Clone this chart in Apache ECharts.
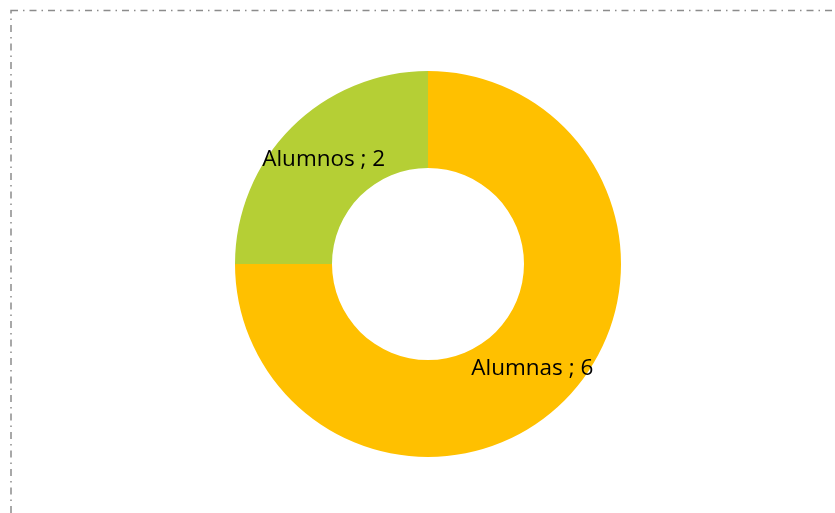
<!DOCTYPE html>
<html>
<head>
<meta charset="utf-8">
<script src="https://cdn.jsdelivr.net/npm/echarts@6/dist/echarts.min.js"></script>
<style>
  html, body { margin: 0; padding: 0; background: #fff; }
  #main { width: 835px; height: 513px; }
</style>
</head>
<body>
<div id="main"></div>
<script>
// datos del gráfico
var categorias = ["Alumnas", "Alumnos"];
var valores = [6, 2];
var colores = ["#FFC000", "#B5CF35"];

var myChart = echarts.init(document.getElementById('main'));

var datos = categorias.map(function (c, i) {
    return { name: c, value: valores[i], itemStyle: { color: colores[i] } };
});

var option = {
    animation: false,
    backgroundColor: '#fff',
    // marco punteado (raya-punto)
    graphic: [{
        type: 'rect',
        shape: { x: 11, y: 10.5, width: 900, height: 600 },
        style: { fill: 'none', stroke: '#8c8c8c', lineWidth: 1.5, lineDash: [7, 5, 1.5, 5] },
        silent: true
    }],
    series: [{
        type: 'pie',
        radius: [96, 193],
        center: [428, 264],
        startAngle: 90,
        clockwise: true,
        data: datos,
        label: {
            show: true,
            position: 'inside',
            formatter: '{b} ; {c}',
            color: '#000',
            fontSize: 22.5,
            fontFamily: 'Open Sans'
        },
        labelLine: { show: false },
        itemStyle: { borderWidth: 0 },
        emphasis: { disabled: true }
    }]
};

myChart.setOption(option);
</script>
</body>
</html>
